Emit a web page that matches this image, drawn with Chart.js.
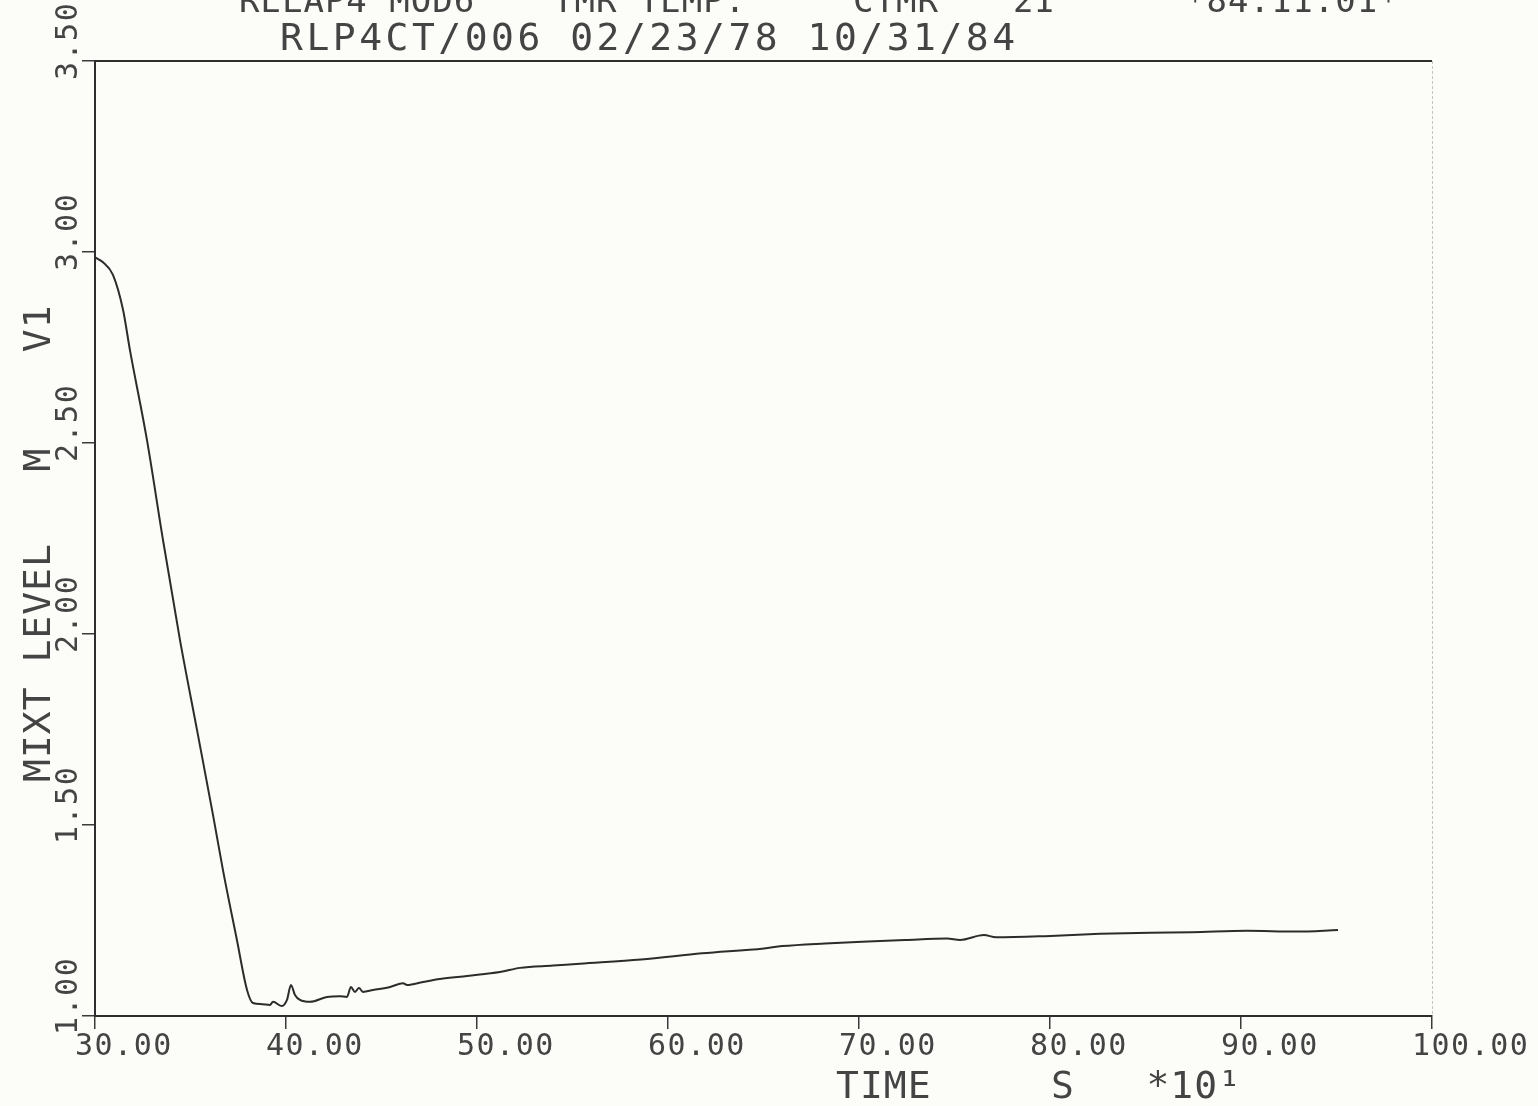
<!DOCTYPE html>
<html>
<head>
<meta charset="utf-8">
<script src="https://cdn.jsdelivr.net/npm/chart.js@4.4.1/dist/chart.umd.min.js"></script>
<style>
  html, body { margin: 0; padding: 0; background: #fcfcf8; }
  #wrap { width: 1538px; height: 1106px; }
</style>
</head>
<body>
<div id="wrap"><canvas id="plot" width="1538" height="1106"></canvas></div>
<script>
// Mixture level in volume V1 (m) against time (s, scaled by 10^1)
const timeS10 = [
  30.00, 30.42, 30.94, 31.47, 31.83, 32.72, 33.56, 34.45, 35.34, 36.18,
  36.70, 37.43, 37.96, 38.27, 38.74, 39.16, 39.32, 39.79, 40.05, 40.26,
  40.47, 40.73, 41.26, 42.15, 42.83, 43.19, 43.40, 43.61, 43.82, 44.03,
  44.55, 45.45, 46.13, 46.34, 47.17, 48.06, 49.48, 51.20, 52.25, 53.98,
  55.39, 58.59, 61.78, 65.03, 65.97, 68.22, 70.47, 72.41, 74.61, 75.29,
  76.54, 77.17, 79.74, 82.62, 85.24, 87.43, 90.31, 92.88, 95.08
];
const mixtLevel = [
  2.986, 2.973, 2.940, 2.848, 2.743, 2.508, 2.246, 1.984, 1.749, 1.526,
  1.382, 1.199, 1.068, 1.034, 1.031, 1.029, 1.037, 1.026, 1.042, 1.081,
  1.055, 1.042, 1.037, 1.050, 1.052, 1.050, 1.076, 1.063, 1.073, 1.063,
  1.068, 1.076, 1.086, 1.081, 1.089, 1.097, 1.105, 1.115, 1.126, 1.132,
  1.137, 1.148, 1.164, 1.177, 1.183, 1.190, 1.195, 1.199, 1.203, 1.199,
  1.212, 1.206, 1.209, 1.215, 1.218, 1.219, 1.223, 1.221, 1.225
];

// Axis ticks
const xTickValues = [30, 40, 50, 60, 70, 80, 90, 100];
const yTickValues = [1.00, 1.50, 2.00, 2.50, 3.00, 3.50];

// Header and axis titles
const headerLine1 = [
  { x: 239, text: "RELAP4 MOD6" },
  { x: 553, text: "TMR TEMP." },
  { x: 853, text: "CTMR" },
  { x: 1013, text: "2I" },
  { x: 1185, text: "*84.11.01*" }
];
const headerLine2 = "RLP4CT/006 02/23/78 10/31/84";
const xAxisTitle = "TIME     S   *10\u00B9";
const yAxisTitle = "MIXT LEVEL   M    V1";

const INK = '#444444';
const MONO = "'DejaVu Sans Mono', 'Liberation Mono', monospace";

const plotterText = {
  id: 'plotterText',
  beforeDraw(chart) {
    const ctx = chart.ctx;
    ctx.save();
    ctx.fillStyle = '#fcfcf8';
    ctx.fillRect(0, 0, chart.width, chart.height);
    ctx.restore();
    // spacing for the tick labels drawn by the x scale
    ctx.letterSpacing = '1.5px';
  },
  afterDraw(chart) {
    const ctx = chart.ctx;
    const area = chart.chartArea;
    const yScale = chart.scales.y;

    ctx.save();
    // top frame line
    ctx.strokeStyle = '#2e2e2e';
    ctx.lineWidth = 2;
    ctx.beginPath();
    ctx.moveTo(area.left, area.top);
    ctx.lineTo(area.right, area.top);
    ctx.stroke();
    // faint right frame line
    ctx.strokeStyle = '#c4c4c0';
    ctx.lineWidth = 1;
    ctx.setLineDash([3, 2]);
    ctx.beginPath();
    ctx.moveTo(area.right + 0.5, area.top);
    ctx.lineTo(area.right + 0.5, area.bottom);
    ctx.stroke();
    ctx.setLineDash([]);

    ctx.fillStyle = INK;

    // rotated y tick labels, reading bottom to top from just below each tick
    ctx.font = '30px ' + MONO;
    ctx.letterSpacing = '1.5px';
    ctx.textAlign = 'left';
    ctx.textBaseline = 'alphabetic';
    yScale.ticks.forEach(t => {
      const py = yScale.getPixelForValue(t.value);
      ctx.save();
      ctx.translate(77, py + 19);
      ctx.rotate(-Math.PI / 2);
      ctx.fillText(t.value.toFixed(2), 0, 0);
      ctx.restore();
    });

    // y axis title
    ctx.font = '38px ' + MONO;
    ctx.letterSpacing = '1px';
    ctx.save();
    ctx.translate(50, 782);
    ctx.rotate(-Math.PI / 2);
    ctx.fillText(yAxisTitle, 0, 0);
    ctx.restore();

    // x axis title
    ctx.fillText(xAxisTitle, 836, 1098);

    // header lines (the first one runs off the top edge)
    ctx.letterSpacing = '3.5px';
    ctx.fillText(headerLine2, 280, 50);
    ctx.font = '34px ' + MONO;
    ctx.letterSpacing = '1px';
    headerLine1.forEach(p => ctx.fillText(p.text, p.x, 12));
    ctx.restore();
  }
};

const points = timeS10.map((t, i) => ({ x: t, y: mixtLevel[i] }));

new Chart(document.getElementById('plot'), {
  type: 'line',
  data: {
    datasets: [{
      data: points,
      borderColor: '#2c2c2c',
      borderWidth: 2,
      pointRadius: 0,
      fill: false,
      cubicInterpolationMode: 'monotone'
    }]
  },
  options: {
    responsive: false,
    animation: false,
    devicePixelRatio: 1,
    layout: { padding: { top: 61, right: 106, left: 0, bottom: 0 } },
    plugins: { legend: { display: false }, tooltip: { enabled: false }, title: { display: false } },
    scales: {
      x: {
        type: 'linear',
        min: xTickValues[0],
        max: xTickValues[xTickValues.length - 1],
        afterBuildTicks(scale) { scale.ticks = xTickValues.map(v => ({ value: v })); },
        afterFit(scale) { scale.height = 90; scale.paddingLeft = 0; scale.paddingRight = 0; },
        ticks: {
          callback: v => Number(v).toFixed(2),
          font: { family: MONO, size: 30 },
          color: INK,
          align: 'start',
          labelOffset: -20,
          padding: 0,
          maxRotation: 0,
          autoSkip: false
        },
        grid: { drawOnChartArea: false, drawTicks: true, tickLength: 13, color: '#3a3a3a', lineWidth: 1.5 },
        border: { display: true, color: '#2e2e2e', width: 2 }
      },
      y: {
        type: 'linear',
        min: yTickValues[0],
        max: yTickValues[yTickValues.length - 1],
        afterBuildTicks(scale) { scale.ticks = yTickValues.map(v => ({ value: v })); },
        afterFit(scale) { scale.width = 95; scale.paddingTop = 0; scale.paddingBottom = 0; },
        ticks: { display: false },
        grid: { drawOnChartArea: false, drawTicks: true, tickLength: 13, color: '#3a3a3a', lineWidth: 1.5 },
        border: { display: true, color: '#2e2e2e', width: 2 }
      }
    }
  },
  plugins: [plotterText]
});
</script>
</body>
</html>
